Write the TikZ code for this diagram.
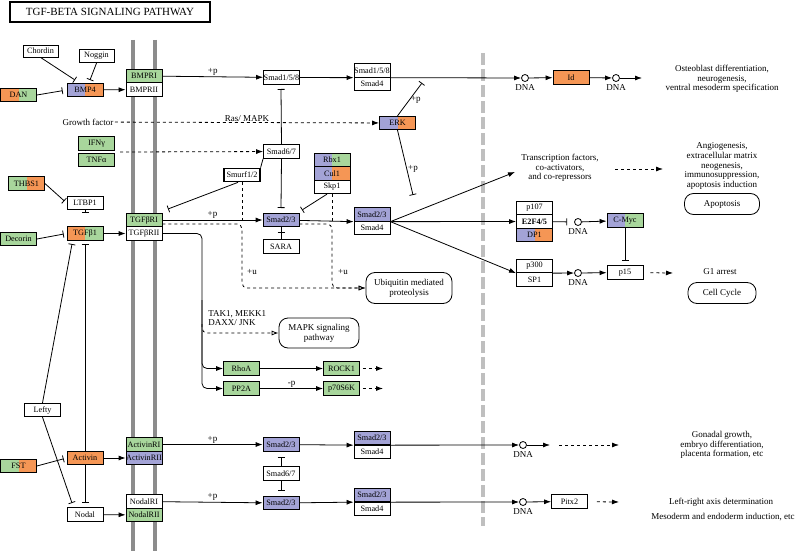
\documentclass[tikz,border=0pt]{standalone}
\usepackage{fontspec}
\setmainfont{Liberation Serif}
\usetikzlibrary{arrows.meta}
\definecolor{kgreen}{RGB}{168,214,156}
\definecolor{kpurple}{RGB}{163,163,214}
\definecolor{korange}{RGB}{245,150,85}
\begin{document}
\begin{tikzpicture}[x=1pt, y=-1pt, line width=0.8pt,
    gene/.style={draw, fill=white, minimum width=36, minimum height=13.5, inner sep=0pt, font=\fontsize{8.2}{9}\selectfont},
    ggene/.style={gene, fill=kgreen},
    pgene/.style={gene, fill=kpurple},
    ogene/.style={gene, fill=korange},
    sgene/.style 2 args={gene, path picture={
        \fill[#1] (path picture bounding box.south west) rectangle (path picture bounding box.north);
        \fill[#2] (path picture bounding box.north) rectangle (path picture bounding box.south east);}},
    proc/.style={draw, rounded corners=9pt, minimum height=30, align=center, font=\fontsize{9}{10}\selectfont},
    txt/.style={font=\fontsize{9}{9.6}\selectfont, align=center, inner sep=1pt},
    dna/.style={draw, circle, minimum size=7, inner sep=0pt, label={[txt, label distance=1pt]below:DNA}},
    act/.style={-{Latex[length=7pt,width=5pt]}},
    inh/.style={-{Bar[width=7pt]}},
    ind/.style={dashed, -{Latex[length=7pt,width=5pt]}},
    ubq/.style={dashed, -{Latex[open,length=7pt,width=5pt]}},
]
\useasboundingbox (0,0) rectangle (800,551);
\draw[line width=4pt, black!45] (133,40) -- (133,551);
\draw[line width=4pt, black!45] (155,40) -- (155,551);
\draw[line width=4pt, black!25, dash pattern=on 12pt off 4pt] (483,53) -- (483,526);
\node[draw, line width=1.2pt, minimum width=200, minimum height=20, font=\fontsize{11}{12}\selectfont] (title) at (110,12) {TGF-BETA SIGNALING PATHWAY};

\node[gene, minimum width=35, minimum height=12] (chd) at (40.5,51) {Chordin};
\node[gene, minimum width=35] (nog) at (96.5,56) {Noggin};
\node[sgene={kpurple}{korange}] (bmp4) at (85,90) {BMP4};
\node[sgene={korange}{kgreen}] (dan) at (18.5,95) {DAN};
\node[ggene] (bmpr1) at (144,76) {BMPRI};
\node[gene] (bmpr2) at (144,89.5) {BMPRII};
\node[txt] (gf) at (88,122) {Growth factor};
\node[ggene] (ifng) at (96.5,143.5) {IFNγ};
\node[ggene] (tnfa) at (96.5,160) {TNFα};
\node[sgene={kgreen}{korange}] (thbs1) at (26.5,183.5) {THBS1};
\node[gene] (ltbp1) at (85,203) {LTBP1};
\node[sgene={korange}{kgreen}] (tgfb1) at (85,233.5) {TGFβ1};
\node[ggene] (dcn) at (18.5,239) {Decorin};
\node[ggene] (tgfbr1) at (144,220) {TGFβRI};
\node[gene] (tgfbr2) at (144,233.5) {TGFβRII};
\node[gene] (lefty) at (42.5,410) {Lefty};
\node[ogene] (act) at (85,458) {Activin};
\node[sgene={kgreen}{korange}] (fst) at (18.5,466) {FST};
\node[gene] (nodal) at (85,514.5) {Nodal};
\node[ggene] (actr1) at (144,444.5) {ActivinRI};
\node[pgene] (actr2) at (144,458) {ActivinRII};
\node[gene] (nodr1) at (144,501.5) {NodalRI};
\node[ggene] (nodr2) at (144,515) {NodalRII};

\node[gene] (s158a) at (281.5,77.5) {Smad1/5/8};
\node[gene] (s158b) at (372,70.5) {Smad1/5/8};
\node[gene] (s4a) at (372,84) {Smad4};
\node[gene] (s67a) at (281.5,151.5) {Smad6/7};
\node[gene, line width=1.2pt] (smurf) at (242,175) {Smurf1/2};
\node[sgene={kpurple}{kgreen}] (rbx1) at (332,160) {Rbx1};
\node[sgene={kpurple}{korange}] (cul1) at (332,173.5) {Cul1};
\node[gene] (skp1) at (332,187) {Skp1};
\node[sgene={kpurple}{korange}] (erk) at (397.5,123) {ERK};
\node[pgene] (s23a) at (281,220) {Smad2/3};
\node[gene] (sara) at (281,246.5) {SARA};
\node[pgene] (s23b) at (372,214.5) {Smad2/3};
\node[gene] (s4b) at (372,228) {Smad4};

\node[dna] (dna1) at (525,78) {};
\node[ogene] (id) at (571,77.5) {Id};
\node[dna] (dna2) at (616,78) {};
\node[txt] (osteo) at (722,79) {Osteoblast differentiation,\\neurogenesis,\\ventral mesoderm specification};
\node[txt] (tf) at (560,168) {Transcription factors,\\co-activators,\\and co-repressors};
\node[txt] (angio) at (722,166) {Angiogenesis,\\extracellular matrix\\neogenesis,\\immunosuppression,\\apoptosis induction};
\node[proc, minimum width=75, minimum height=21] (apop) at (722,204) {Apoptosis};
\node[gene] (p107) at (534.5,208) {p107};
\node[gene] (e2f) at (534.5,221.5) {\bfseries E2F4/5};
\node[sgene={kpurple}{korange}] (dp1) at (534.5,235) {DP1};
\node[dna] (dna3) at (578,222) {};
\node[sgene={kpurple}{kgreen}] (cmyc) at (625,220.5) {C-Myc};
\node[gene] (p300) at (534.5,266) {p300};
\node[gene] (sp1) at (534.5,279.5) {SP1};
\node[dna] (dna4) at (578,273) {};
\node[gene] (p15) at (625,272.5) {p15};
\node[txt] (g1) at (720,272) {G1 arrest};
\node[proc, minimum width=68, minimum height=21] (cycle) at (722,293) {Cell Cycle};

\node[proc, minimum width=86, minimum height=31] (ubiq) at (409,288) {Ubiquitin mediated\\proteolysis};
\node[proc, minimum width=80] (mapk) at (319,333) {MAPK signaling\\pathway};
\node[txt, align=left, anchor=west] (tak) at (207,318) {TAK1, MEKK1\\DAXX/ JNK};
\node[ggene] (rhoa) at (241.5,368.5) {RhoA};
\node[ggene] (pp2a) at (241.5,388.5) {PP2A};
\node[ggene] (rock1) at (341.5,368.5) {ROCK1};
\node[ggene] (p70) at (341.5,388.5) {p70S6K};

\node[pgene] (s23c) at (281,444.5) {Smad2/3};
\node[gene] (s67b) at (281,473.5) {Smad6/7};
\node[pgene] (s23d) at (281,503) {Smad2/3};
\node[pgene] (s23e) at (372,438) {Smad2/3};
\node[gene] (s4c) at (372,452) {Smad4};
\node[pgene] (s23f) at (372,495) {Smad2/3};
\node[gene] (s4d) at (372,509) {Smad4};
\node[dna] (dna5) at (523,445) {};
\node[dna] (dna6) at (523,502) {};
\node[gene] (pitx2) at (569.5,501.5) {Pitx2};
\node[txt] (gonad) at (722,445) {Gonadal growth,\\embryo differentiation,\\placenta formation, etc};
\node[txt] (lr) at (721,502) {Left-right axis determination};
\node[txt] (meso) at (723,517) {Mesoderm and endoderm induction, etc};

\coordinate (bmpa) at (75,80);
\coordinate (bmpb) at (90,80);
\coordinate (ltb) at (85,213);
\coordinate (tgfa) at (72,244);
\coordinate (tgfb) at (85,244);
\coordinate (noda) at (72,503);
\coordinate (nodb) at (85,503);
\coordinate (ifnin) at (120,152);
\coordinate (s158bar) at (281,89);
\coordinate (s23bar) at (281,208);
\coordinate (rbar) at (168,209);
\coordinate (skbar) at (302,210);
\coordinate (sarabar) at (281,232);
\coordinate (erkup) at (422,83);
\coordinate (erkdn) at (413,195);
\coordinate (idout) at (642,78);
\coordinate (tfin) at (515,172);
\coordinate (tfa) at (615,169);
\coordinate (tfb) at (663,169);
\coordinate (p15out) at (673,273);
\coordinate (rockout) at (383,368.5);
\coordinate (p70out) at (383,388.5);
\coordinate (s67bara) at (281,457);
\coordinate (s67barb) at (281,491);
\coordinate (g5a) at (550,445);
\coordinate (g5b) at (559,445);
\coordinate (g5c) at (619,445);
\coordinate (pout) at (619,502);
\coordinate (trunk) at (202,300);
\coordinate (tmk) at (202,324);
\coordinate (u1) at (242,224);
\coordinate (u2) at (332,224);

\path[act]
    (bmp4) edge (bmpr2)
    (tgfb1) edge (tgfbr2)
    (act) edge (actr2)
    (nodal) edge (nodr2)
    (bmpr1) edge node[txt, above] {+p} (s158a)
    (s158a) edge (s158b.south west)
    (s158b.south east) edge (dna1)
    (dna1) edge (id)
    (id) edge (dna2)
    (dna2) edge (idout)
    (tgfbr1) edge node[txt, above] {+p} (s23a)
    (s23a) edge (s23b.south west)
    (s23b.south east) edge (tfin)
    (s23b.south east) edge (e2f)
    (s23b.south east) edge (p300.south west)
    (dna3) edge (cmyc)
    (p300.south east) edge (dna4)
    (dna4) edge (p15)
    (rhoa) edge (rock1)
    (pp2a) edge node[txt, above] {-p} (p70)
    (actr1) edge node[txt, above] {+p} (s23c)
    (nodr1) edge node[txt, above] {+p} (s23d)
    (s23c) edge (s23e.south west)
    (s23d) edge (s23f.south west)
    (s23e.south east) edge (dna5)
    (s23f.south east) edge (dna6)
    (dna5) edge (g5a)
    (dna6) edge (pitx2)
;
\path[inh]
    (chd.south) edge (bmpa)
    (nog.south) edge (bmpb)
    (dan.east) edge[shorten >=4pt] (bmp4.west)
    (thbs1.east) edge[shorten >=3pt] (ltbp1.west)
    (ltbp1) edge (ltb)
    (dcn.east) edge[shorten >=3pt] (tgfb1.west)
    (fst.east) edge[shorten >=3pt] (act.west)
    (lefty.north) edge (tgfa)
    (act.north) edge (tgfb)
    (lefty.south) edge (noda)
    (act.south) edge (nodb)
    (s67a.north) edge (s158bar)
    (s67a.south) edge (s23bar)
    ([xshift=-4pt]smurf.south) edge (rbar)
    ([xshift=-5pt]skp1.south) edge (skbar)
    (sara.north) edge (sarabar)
    (erk.north) edge node[txt, right] {+p} (erkup)
    (erk.south) edge node[txt, right, pos=0.6] {+p} (erkdn)
    (e2f) edge[shorten >=7pt] (dna3)
    (cmyc) edge[shorten >=5pt] (p15)
    (s67b.north) edge (s67bara)
    (s67b.south) edge (s67barb)
;
\path[ind]
    (gf) edge node[txt, above] {Ras/ MAPK} (erk)
    (ifnin) edge (s67a)
    (tfa) edge (tfb)
    (p15) edge[shorten <=7pt] (p15out)
    (rock1) edge[shorten <=3pt] (rockout)
    (p70) edge[shorten <=3pt] (p70out)
    (g5b) edge (g5c)
    (pitx2) edge[shorten <=9pt] (pout)
;
\draw (sarabar) -- (s23a.south);
\draw (s67a.south west) -- (smurf.north east);
\draw[act, rounded corners=5pt] (tgfbr2.east) -| (trunk) |- (pp2a.west);
\draw[act, rounded corners=5pt] (trunk) |- (rhoa.west);
\draw[ubq, rounded corners=5pt] (tmk) |- (mapk.west);
\draw[ubq, rounded corners=5pt] ([yshift=-4pt]tgfbr1.east) -| (smurf.south |- ubiq.west) -- (ubiq.west);
\draw[dashed] (smurf.south) -- (u1);
\draw[ubq, rounded corners=5pt] ([yshift=-4pt]s23a.east) -| (skp1.south |- ubiq.west) -- (ubiq.west);
\draw[dashed] (skp1.south) -- (u2);
\node[txt] at (252,272) {+u};
\node[txt] at (343,272) {+u};
\end{tikzpicture}
\end{document}
